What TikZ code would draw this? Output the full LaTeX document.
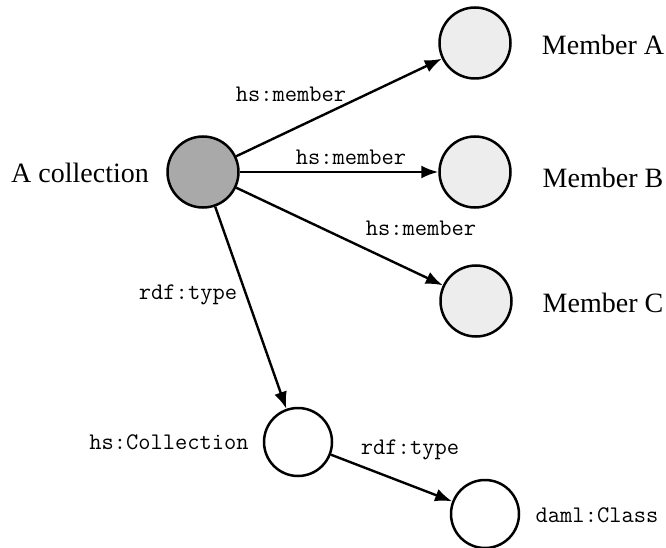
\documentclass[tikz,border=0pt]{standalone}
\usepackage{fontspec}
\setmainfont{Liberation Serif}
\usetikzlibrary{arrows.meta}
\definecolor{darkfill}{HTML}{A9A9A9}
\definecolor{lightfill}{HTML}{EDEDED}
\begin{document}
\begin{tikzpicture}[x=1pt,y=-1pt,
  res/.style={circle,draw=black,line width=2.5pt,inner sep=0pt,minimum size=71pt},
  collres/.style={res,fill=darkfill},
  memberres/.style={res,fill=lightfill},
  classres/.style={res,fill=white,minimum size=68pt},
  rellink/.style={line width=2.4pt,-{Latex[length=17pt,width=13pt]}},
  prop/.style={inner sep=0pt,font=\fontsize{23.8}{26}\ttfamily},
  title/.style={inner sep=0pt,font=\fontsize{28}{32}\selectfont}]
  \useasboundingbox (0,0) rectangle (666,548);

  % resources
  \node[collres]   (coll) at (203,172) {};
  \node[memberres] (ma)   at (475,43)  {};
  \node[memberres] (mb)   at (475,172) {};
  \node[memberres] (mc)   at (476,301) {};
  \node[classres]  (hsc)  at (298,442) {};
  \node[classres]  (dc)   at (485,514) {};

  % resource names
  \node[title] (tcoll) at (80,173)  {A collection};
  \node[title] (ta)    at (603,45)  {Member A};
  \node[title] (tb)    at (603,178) {Member B};
  \node[title] (tc)    at (603,303) {Member C};
  \node[prop]  (thsc)  at (169,442) {hs:Collection};
  \node[prop]  (tdc)   at (597,515) {daml:Class};

  % properties
  \draw[rellink] (coll) -- (ma);
  \draw[rellink] (coll) -- (mb);
  \draw[rellink] (coll) -- (mc);
  \draw[rellink] (coll) -- (hsc);
  \draw[rellink] (hsc) -- (dc);

  \node[prop] (pa)  at (291,94)  {hs:member};
  \node[prop] (pb)  at (351,157) {hs:member};
  \node[prop] (pc)  at (421,228) {hs:member};
  \node[prop] (pt1) at (188,295) {rdf:type};
  \node[prop] (pt2) at (410,450) {rdf:type};
\end{tikzpicture}
\end{document}
